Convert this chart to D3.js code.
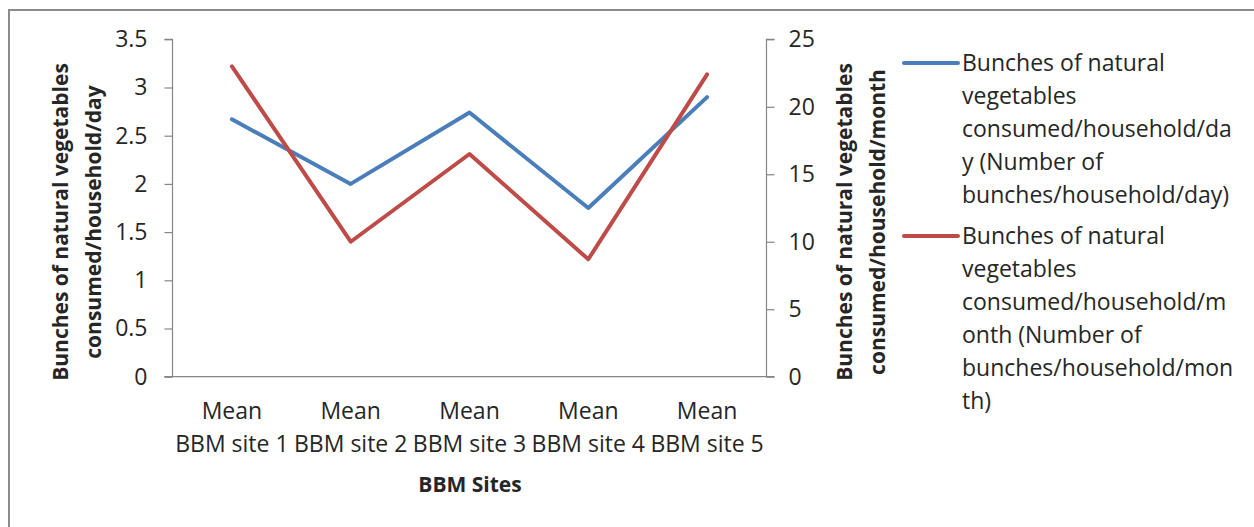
<!DOCTYPE html>
<html>
<head>
<meta charset="utf-8">
<script src="https://cdn.jsdelivr.net/npm/d3@7"></script>
<style>
  html, body { margin: 0; padding: 0; background: #fff; }
  svg { display: block; }
  text { font-family: "Open Sans", "Noto Sans", sans-serif; fill: #262626; }
</style>
</head>
<body>
<svg id="chart" width="1254" height="527"></svg>
<script>
// Categories (two-line labels) and series values
const sites = ["Mean BBM site 1", "Mean BBM site 2", "Mean BBM site 3", "Mean BBM site 4", "Mean BBM site 5"];
const siteLabelLines = [["Mean", "BBM site 1"], ["Mean", "BBM site 2"], ["Mean", "BBM site 3"], ["Mean", "BBM site 4"], ["Mean", "BBM site 5"]];
const perDay = [2.67, 2.0, 2.74, 1.75, 2.9];      // left axis
const perMonth = [23.0, 10.0, 16.5, 8.7, 22.4];   // right axis
const leftTicks = [0, 0.5, 1, 1.5, 2, 2.5, 3, 3.5];
const rightTicks = [0, 5, 10, 15, 20, 25];
const legendDay = ["Bunches of natural", "vegetables", "consumed/household/da", "y (Number of", "bunches/household/day)"];
const legendMonth = ["Bunches of natural", "vegetables", "consumed/household/m", "onth (Number of", "bunches/household/mon", "th)"];
const leftTitle = ["Bunches of natural vegetables", "consumed/household/day"];
const rightTitle = ["Bunches of natural vegetables", "consumed/household/month"];
const xTitle = "BBM Sites";

const colors = { day: "#4a7ebb", month: "#be4b48" };
const axisColor = "#868686";
const fs = 23;

const svg = d3.select("#chart");

// outer chart frame
svg.append("rect")
  .attr("x", 9).attr("y", 10)
  .attr("width", 1300).attr("height", 600)
  .attr("fill", "none").attr("stroke", "#8c8c8c").attr("stroke-width", 2);

const plot = { left: 172.5, right: 766.5, top: 39.3, bottom: 376.7 };

const x = d3.scaleBand().domain(sites).range([plot.left, plot.right]).paddingInner(0).paddingOuter(0);
const yL = d3.scaleLinear().domain([0, 3.5]).range([plot.bottom, plot.top]);
const yR = d3.scaleLinear().domain([0, 25]).range([plot.bottom, plot.top]);
const cx = d => x(d) + x.bandwidth() / 2;

// left axis
const gL = svg.append("g").attr("transform", `translate(${plot.left},0)`)
  .call(d3.axisLeft(yL).tickValues(leftTicks).tickSize(8).tickPadding(17).tickFormat(d3.format("")));
// right axis
const gR = svg.append("g").attr("transform", `translate(${plot.right},0)`)
  .call(d3.axisRight(yR).tickValues(rightTicks).tickSize(8).tickPadding(14).tickFormat(d3.format("")));
// bottom axis (line only)
const gB = svg.append("g").attr("transform", `translate(0,${plot.bottom})`)
  .call(d3.axisBottom(x).tickSize(0).tickFormat(""));

[gL, gR, gB].forEach(g => {
  g.select(".domain").attr("stroke", axisColor).attr("stroke-width", 1.2);
  g.selectAll(".tick line").attr("stroke", axisColor).attr("stroke-width", 1.2);
  g.selectAll("text").attr("font-size", fs).attr("fill", "#262626")
    .attr("font-family", '"Open Sans", sans-serif');
});
gL.select(".domain").attr("d", `M-8,${plot.top}H0V${plot.bottom}H-8`);
gR.select(".domain").attr("d", `M8,${plot.top}H0V${plot.bottom}H8`);
gB.select(".domain").attr("d", `M${plot.left - 8},0H${plot.right}`);

// category labels
const cat = svg.append("g");
siteLabelLines.forEach((lines, i) => {
  const t = cat.append("text").attr("text-anchor", "middle").attr("font-size", fs)
    .attr("x", cx(sites[i])).attr("y", 419);
  lines.forEach((ln, j) => t.append("tspan").attr("x", cx(sites[i])).attr("dy", j ? 32.5 : 0).text(ln));
});

// axis titles
svg.append("text").attr("x", 470).attr("y", 492).attr("text-anchor", "middle")
  .attr("font-size", fs - 2).attr("font-weight", "bold").attr("fill", "#111").text(xTitle);

function vTitle(lines, x0, cy) {
  const t = svg.append("text").attr("transform", `translate(${x0},${cy}) rotate(-90)`)
    .attr("text-anchor", "middle").attr("font-size", fs - 2).attr("font-weight", "bold").attr("fill", "#111");
  lines.forEach((ln, j) => t.append("tspan").attr("x", 0).attr("dy", j ? 33 : 0).text(ln));
}
vTitle(leftTitle, 68, 222);
vTitle(rightTitle, 852, 222);

// lines
const lineL = d3.line().x((d, i) => cx(sites[i])).y(d => yL(d));
const lineR = d3.line().x((d, i) => cx(sites[i])).y(d => yR(d));
svg.append("path").datum(perDay).attr("d", lineL)
  .attr("fill", "none").attr("stroke", colors.day).attr("stroke-width", 4).attr("stroke-linejoin", "round").attr("stroke-linecap", "round");
svg.append("path").datum(perMonth).attr("d", lineR)
  .attr("fill", "none").attr("stroke", colors.month).attr("stroke-width", 4).attr("stroke-linejoin", "round").attr("stroke-linecap", "round");

// legend
function legendEntry(lines, color, y0) {
  svg.append("line").attr("x1", 904).attr("x2", 958).attr("y1", y0).attr("y2", y0)
    .attr("stroke", color).attr("stroke-width", 4).attr("stroke-linecap", "round");
  const t = svg.append("text").attr("font-size", fs).attr("x", 962).attr("y", y0 + 8);
  lines.forEach((ln, j) => t.append("tspan").attr("x", 962).attr("dy", j ? 33 : 0).text(ln));
}
legendEntry(legendDay, colors.day, 63);
legendEntry(legendMonth, colors.month, 236);
</script>
</body>
</html>
